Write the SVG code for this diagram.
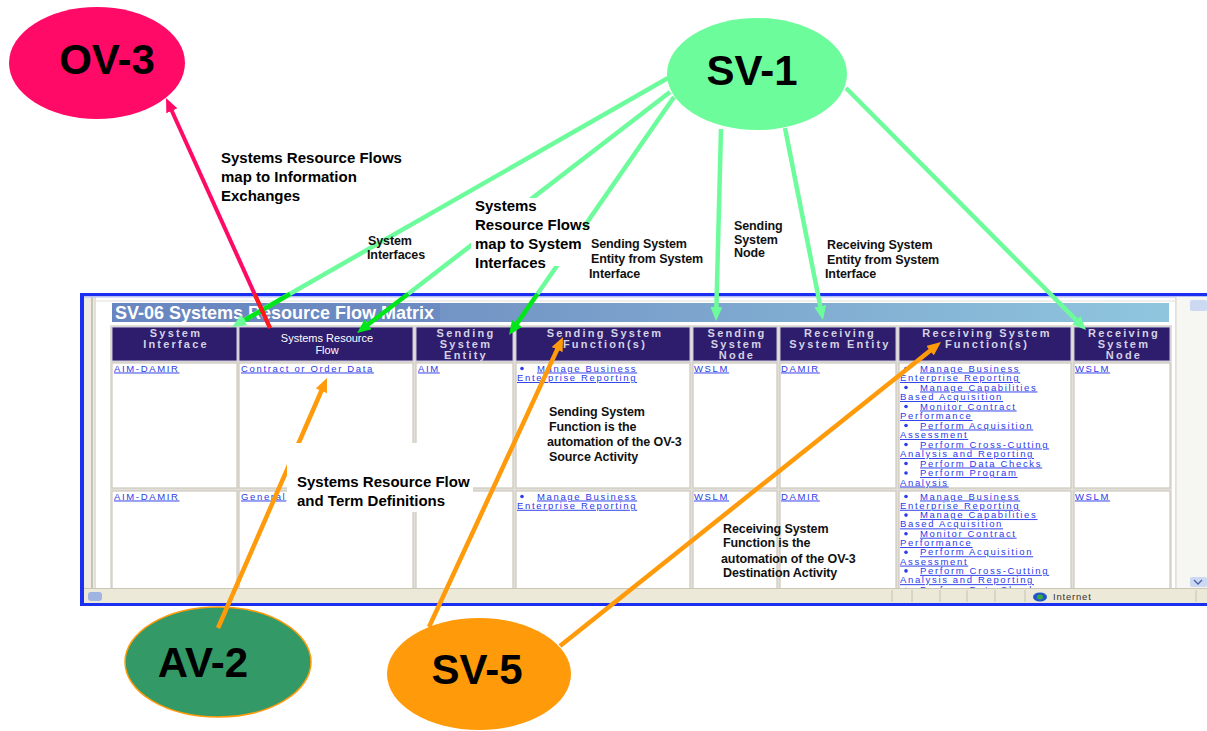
<svg xmlns="http://www.w3.org/2000/svg" width="1207" height="731" viewBox="0 0 1207 731">
  <style>
    .node-label{font-family:"Liberation Sans",Arial,sans-serif;font-weight:bold;font-size:42px;fill:#000;text-anchor:middle}
    .note{font-family:"Liberation Sans",Arial,sans-serif;font-weight:bold;font-size:15px;fill:#000}
    .tag{font-family:"Liberation Sans",Arial,sans-serif;font-weight:bold;font-size:12.5px;fill:#111;letter-spacing:-0.1px}
    .hdr{font-family:"Liberation Sans",Arial,sans-serif;font-weight:bold;font-size:11px;fill:#d4d2e4;text-anchor:middle;letter-spacing:2.2px}
    .hdr-w{font-family:"Liberation Sans",Arial,sans-serif;font-size:11px;fill:#fff;text-anchor:middle}
    .lnk{font-family:"Liberation Sans",Arial,sans-serif;font-size:9.5px;fill:#2b3be8;text-decoration:underline;letter-spacing:1.65px}
    .bul{fill:#2b3be8}
    .cell{fill:#fff;stroke:#cdc9bf;stroke-width:1.2}
    .hcell{fill:#2e1c6c;stroke:#c9c6d8;stroke-width:1}
    .g-soft{stroke:#6dfc9b;stroke-width:4.5;fill:none}
    .g-bright{stroke:#00e61a;stroke-width:4.5;fill:none}
    .pink{stroke:#ff0a66;stroke-width:4;fill:none}
    .red{stroke:#ff1a1a;stroke-width:4;fill:none}
    .orange{stroke:#ff9a0a;stroke-width:4.5;fill:none}
    .sep{stroke:#c5c2b2;stroke-width:1}
  </style>
  <defs>
    <marker id="ah-soft" viewBox="0 0 14 12" refX="8" refY="6" markerWidth="14" markerHeight="12" markerUnits="userSpaceOnUse" orient="auto">
      <path d="M0,0 L14,6 L0,12 z" fill="#6dfc9b"/>
    </marker>
    <marker id="ah-bright" viewBox="0 0 14 12" refX="8" refY="6" markerWidth="14" markerHeight="12" markerUnits="userSpaceOnUse" orient="auto">
      <path d="M0,0 L14,6 L0,12 z" fill="#00e61a"/>
    </marker>
    <marker id="ah-pink" viewBox="0 0 14 12" refX="8" refY="6" markerWidth="14" markerHeight="12" markerUnits="userSpaceOnUse" orient="auto">
      <path d="M0,0 L14,6 L0,12 z" fill="#ff0a66"/>
    </marker>
    <marker id="ah-orange" viewBox="0 0 14 12" refX="8" refY="6" markerWidth="14" markerHeight="12" markerUnits="userSpaceOnUse" orient="auto">
      <path d="M0,0 L14,6 L0,12 z" fill="#ff9a0a"/>
    </marker>
    <linearGradient id="titlebar" x1="0" y1="0" x2="1" y2="0">
      <stop offset="0" stop-color="#6a89c2"/>
      <stop offset="0.35" stop-color="#7496c6"/>
      <stop offset="1" stop-color="#8fc6de"/>
    </linearGradient>
    <clipPath id="pane">
      <rect x="96" y="297" width="1079" height="291"/>
    </clipPath>
  </defs>

  <rect width="1207" height="731" fill="#fff"/>

  <!-- browser window holding the SV-06 matrix -->
  <g id="matrix-window">
    <rect x="80" y="293" width="1127" height="313" fill="#eeece4"/>
    <rect x="96" y="297" width="1079" height="291" fill="#fff"/>
    <line x1="92" y1="297" x2="92" y2="588" stroke="#b9b6a9" stroke-width="1.5"/>
    <line x1="95" y1="297" x2="95" y2="588" stroke="#d6d3c6" stroke-width="1"/>
    <line x1="96" y1="301" x2="1175" y2="301" stroke="#e2e0da" stroke-width="1"/>
    <!-- frame -->
    <rect x="80" y="293" width="1127" height="3" fill="#1a2ff0"/>
    <rect x="80" y="296" width="1127" height="1.5" fill="#b8c0f4"/>
    <rect x="80" y="293" width="4" height="313" fill="#1a2ff0"/>
    <rect x="80" y="603" width="1127" height="3" fill="#1a2ff0"/>

    <!-- scrollbar -->
    <rect x="1176" y="297" width="31" height="291" fill="#f6f6f2"/>
    <line x1="1176" y1="297" x2="1176" y2="588" stroke="#d8d5ca"/>
    <rect x="1190" y="300" width="17" height="11" fill="#cdd9f2" rx="2"/>
    <rect x="1190" y="577" width="17" height="10" fill="#cdd9f2" rx="2"/>
    <path d="M1194,580 L1198,584 L1202,580" fill="none" stroke="#4a5fa8" stroke-width="1.3"/>

    <!-- status bar -->
    <rect x="84" y="588" width="1123" height="15" fill="#ece9d8"/>
    <line x1="84" y1="588.5" x2="1207" y2="588.5" stroke="#c9c6b6"/>
    <rect x="88" y="592" width="14" height="9" rx="3" fill="#9fb4e0"/>
    <line class="sep" x1="892" y1="590" x2="892" y2="602"/>
    <line class="sep" x1="912" y1="590" x2="912" y2="602"/>
    <line class="sep" x1="940" y1="590" x2="940" y2="602"/>
    <line class="sep" x1="967" y1="590" x2="967" y2="602"/>
    <line class="sep" x1="995" y1="590" x2="995" y2="602"/>
    <line class="sep" x1="1025" y1="590" x2="1025" y2="602"/>
    <line class="sep" x1="1196" y1="590" x2="1196" y2="602"/>
    <ellipse cx="1040" cy="597" rx="7" ry="4.5" fill="#1f56c8"/>
    <ellipse cx="1040" cy="597" rx="3" ry="2.5" fill="#3aa83a"/>
    <text x="1053" y="600" font-family="Liberation Sans, Arial, sans-serif" font-size="9.5" fill="#333" letter-spacing="0.8">Internet</text>

    <!-- page title -->
    <rect x="112" y="303" width="1057" height="19" fill="url(#titlebar)"/>
    <rect x="112" y="303" width="328" height="19" fill="#6785c0" opacity="0.6"/>
    <text x="115" y="319" font-family="Liberation Sans, Arial, sans-serif" font-weight="bold" font-size="18" fill="#fff">SV-06 Systems Resource Flow Matrix</text>

    <g clip-path="url(#pane)">
      <rect x="110" y="325" width="1062" height="265" fill="#e2e0d9"/>
      <!-- header row -->
      <rect class="hcell" x="112" y="327" width="125" height="34"/>
      <rect class="hcell" x="239" y="327" width="174" height="34"/>
      <rect class="hcell" x="416" y="327" width="97" height="34"/>
      <rect class="hcell" x="516" y="327" width="174" height="34"/>
      <rect class="hcell" x="693" y="327" width="84" height="34"/>
      <rect class="hcell" x="780" y="327" width="116" height="34"/>
      <rect class="hcell" x="899" y="327" width="172" height="34"/>
      <rect class="hcell" x="1074" y="327" width="96" height="34"/>
      <!-- body rows -->
      <rect class="cell" x="112" y="363" width="125" height="125"/>
      <rect class="cell" x="239" y="363" width="174" height="125"/>
      <rect class="cell" x="416" y="363" width="97" height="125"/>
      <rect class="cell" x="516" y="363" width="174" height="125"/>
      <rect class="cell" x="693" y="363" width="84" height="125"/>
      <rect class="cell" x="780" y="363" width="116" height="125"/>
      <rect class="cell" x="899" y="363" width="172" height="125"/>
      <rect class="cell" x="1074" y="363" width="96" height="125"/>
      <rect class="cell" x="112" y="491" width="125" height="110"/>
      <rect class="cell" x="239" y="491" width="174" height="110"/>
      <rect class="cell" x="416" y="491" width="97" height="110"/>
      <rect class="cell" x="516" y="491" width="174" height="110"/>
      <rect class="cell" x="693" y="491" width="84" height="110"/>
      <rect class="cell" x="780" y="491" width="116" height="110"/>
      <rect class="cell" x="899" y="491" width="172" height="110"/>
      <rect class="cell" x="1074" y="491" width="96" height="110"/>

      <!-- header texts -->
      <text class="hdr" x="176" y="337">System</text>
      <text class="hdr" x="176" y="348">Interface</text>
      <text class="hdr-w" x="327" y="342">Systems Resource</text>
      <text class="hdr-w" x="327" y="354">Flow</text>
      <text class="hdr" x="466" y="337">Sending</text>
      <text class="hdr" x="466" y="348">System</text>
      <text class="hdr" x="466" y="359">Entity</text>
      <text class="hdr" x="605" y="337">Sending System</text>
      <text class="hdr" x="605" y="348">Function(s)</text>
      <text class="hdr" x="737" y="337">Sending</text>
      <text class="hdr" x="737" y="348">System</text>
      <text class="hdr" x="737" y="359">Node</text>
      <text class="hdr" x="840" y="337">Receiving</text>
      <text class="hdr" x="840" y="348">System Entity</text>
      <text class="hdr" x="987" y="337">Receiving System</text>
      <text class="hdr" x="987" y="348">Function(s)</text>
      <text class="hdr" x="1124" y="337">Receiving</text>
      <text class="hdr" x="1124" y="348">System</text>
      <text class="hdr" x="1124" y="359">Node</text>

      <!-- row 1 -->
      <text class="lnk" x="114" y="371.5">AIM-DAMIR</text>
      <text class="lnk" x="241" y="371.5">Contract or Order Data</text>
      <text class="lnk" x="418" y="371.5">AIM</text>
      <circle class="bul" cx="522" cy="368.5" r="1.8"/>
      <text class="lnk" x="537" y="371.5">Manage Business</text>
      <text class="lnk" x="517" y="381">Enterprise Reporting</text>
      <text class="lnk" x="694" y="371.5">WSLM</text>
      <text class="lnk" x="781" y="371.5">DAMIR</text>
      <circle class="bul" cx="906" cy="368.5" r="1.8"/>
      <text class="lnk" x="920" y="371.5">Manage Business</text>
      <text class="lnk" x="900" y="381">Enterprise Reporting</text>
      <circle class="bul" cx="906" cy="387.5" r="1.8"/>
      <text class="lnk" x="920" y="390.5">Manage Capabilities</text>
      <text class="lnk" x="900" y="400">Based Acquisition</text>
      <circle class="bul" cx="906" cy="406.5" r="1.8"/>
      <text class="lnk" x="920" y="409.5">Monitor Contract</text>
      <text class="lnk" x="900" y="419">Performance</text>
      <circle class="bul" cx="906" cy="425.5" r="1.8"/>
      <text class="lnk" x="920" y="428.5">Perform Acquisition</text>
      <text class="lnk" x="900" y="438">Assessment</text>
      <circle class="bul" cx="906" cy="444.5" r="1.8"/>
      <text class="lnk" x="920" y="447.5">Perform Cross-Cutting</text>
      <text class="lnk" x="900" y="457">Analysis and Reporting</text>
      <circle class="bul" cx="906" cy="463.5" r="1.8"/>
      <text class="lnk" x="920" y="466.5">Perform Data Checks</text>
      <circle class="bul" cx="906" cy="473" r="1.8"/>
      <text class="lnk" x="920" y="476">Perform Program</text>
      <text class="lnk" x="900" y="485.5">Analysis</text>
      <text class="lnk" x="1075" y="371.5">WSLM</text>

      <!-- row 2 -->
      <text class="lnk" x="114" y="499.5">AIM-DAMIR</text>
      <text class="lnk" x="241" y="499.5">General</text>
      <circle class="bul" cx="522" cy="496.5" r="1.8"/>
      <text class="lnk" x="537" y="499.5">Manage Business</text>
      <text class="lnk" x="517" y="508.8">Enterprise Reporting</text>
      <text class="lnk" x="694" y="499.5">WSLM</text>
      <text class="lnk" x="781" y="499.5">DAMIR</text>
      <circle class="bul" cx="906" cy="496.5" r="1.8"/>
      <text class="lnk" x="920" y="499.5">Manage Business</text>
      <text class="lnk" x="900" y="508.8">Enterprise Reporting</text>
      <circle class="bul" cx="906" cy="515.1" r="1.8"/>
      <text class="lnk" x="920" y="518.1">Manage Capabilities</text>
      <text class="lnk" x="900" y="527.4">Based Acquisition</text>
      <circle class="bul" cx="906" cy="533.7" r="1.8"/>
      <text class="lnk" x="920" y="536.7">Monitor Contract</text>
      <text class="lnk" x="900" y="546">Performance</text>
      <circle class="bul" cx="906" cy="552.3" r="1.8"/>
      <text class="lnk" x="920" y="555.3">Perform Acquisition</text>
      <text class="lnk" x="900" y="564.6">Assessment</text>
      <circle class="bul" cx="906" cy="570.9" r="1.8"/>
      <text class="lnk" x="920" y="573.9">Perform Cross-Cutting</text>
      <text class="lnk" x="900" y="583.2">Analysis and Reporting</text>
      <circle class="bul" cx="906" cy="589.5" r="1.8"/>
      <text class="lnk" x="920" y="592.5">Perform Data Checks</text>
      <text class="lnk" x="1075" y="499.5">WSLM</text>
    </g>
  </g>

  <!-- view nodes -->
  <g id="ov3">
    <ellipse cx="97" cy="63" rx="88" ry="56" fill="#ff0a66"/>
    <text class="node-label" x="107" y="74">OV-3</text>
  </g>
  <g id="sv1">
    <ellipse cx="757" cy="74" rx="90" ry="56" fill="#6dfc9b"/>
    <text class="node-label" x="752" y="85">SV-1</text>
  </g>
  <g id="av2">
    <ellipse cx="218" cy="662" rx="93" ry="55" fill="#339966" stroke="#ff9a0a" stroke-width="1.5"/>
    <text class="node-label" x="203" y="677">AV-2</text>
  </g>
  <g id="sv5">
    <ellipse cx="479" cy="674" rx="92" ry="56" fill="#ff9a0a"/>
    <text class="node-label" x="477" y="684">SV-5</text>
  </g>

  <!-- connectors -->
  <g id="connectors">
    <!-- SV-1 to matrix columns -->
    <path class="g-soft" d="M668,78 L237.2,324" marker-end="url(#ah-soft)"/>
    <path class="g-bright" d="M290,294 L245,320"/>
    <path class="g-soft" d="M670,92 L408,294"/>
    <path class="g-bright" d="M408,294 L361.8,329.3" marker-end="url(#ah-bright)"/>
    <path class="g-soft" d="M674,97 L537.4,294"/>
    <path class="g-bright" d="M537.4,294 L512.4,330.1" marker-end="url(#ah-bright)"/>
    <path class="g-soft" d="M721,129 L716.2,315" marker-end="url(#ah-soft)"/>
    <path class="g-soft" d="M785,128 L821.8,314.1" marker-end="url(#ah-soft)"/>
    <path class="g-soft" d="M846,88 L1081.8,325.7" marker-end="url(#ah-soft)"/>
    <!-- resource flow to OV-3 -->
    <path class="pink" d="M270,328 L168.5,103.5" marker-end="url(#ah-pink)"/>
    <path class="red" d="M270,328 L254.6,294"/>
    <!-- AV-2 and SV-5 into the matrix -->
    <path class="orange" d="M218,628 L324.6,383.5" marker-end="url(#ah-orange)"/>
    <path class="orange" d="M429,627 L560.5,342.4" marker-end="url(#ah-orange)"/>
    <path class="orange" d="M560,646 L936.3,345.7" marker-end="url(#ah-orange)"/>
  </g>

  <!-- annotations -->
  <g id="note-info-exchanges">
    <text class="note" x="221" y="163">Systems Resource Flows</text>
    <text class="note" x="221" y="182">map to Information</text>
    <text class="note" x="221" y="201">Exchanges</text>
  </g>
  <g id="note-system-interfaces">
    <rect x="471" y="198" width="113" height="68" fill="#fff"/>
    <text class="note" x="475" y="211">Systems</text>
    <text class="note" x="475" y="230">Resource Flows</text>
    <text class="note" x="475" y="249">map to System</text>
    <text class="note" x="475" y="268">Interfaces</text>
  </g>
  <g id="note-term-definitions">
    <rect x="287" y="443" width="186" height="69" fill="#fff"/>
    <text class="note" x="297" y="487">Systems Resource Flow</text>
    <text class="note" x="297" y="506">and Term Definitions</text>
  </g>
  <g id="tag-system-interfaces">
    <text class="tag" x="368" y="245">System</text>
    <text class="tag" x="367" y="259">Interfaces</text>
  </g>
  <g id="tag-sending-entity">
    <text class="tag" x="591" y="248">Sending System</text>
    <text class="tag" x="591" y="263">Entity from System</text>
    <text class="tag" x="589" y="278">Interface</text>
  </g>
  <g id="tag-sending-node">
    <text class="tag" x="734" y="230">Sending</text>
    <text class="tag" x="734" y="244">System</text>
    <text class="tag" x="734" y="257">Node</text>
  </g>
  <g id="tag-receiving-entity">
    <text class="tag" x="827" y="249">Receiving System</text>
    <text class="tag" x="827" y="264">Entity from System</text>
    <text class="tag" x="825" y="278">Interface</text>
  </g>
  <g id="tag-sending-function">
    <text class="tag" x="549" y="416">Sending System</text>
    <text class="tag" x="549" y="431">Function is the</text>
    <text class="tag" x="547" y="446">automation of the OV-3</text>
    <text class="tag" x="549" y="461">Source Activity</text>
  </g>
  <g id="tag-receiving-function">
    <text class="tag" x="723" y="533">Receiving System</text>
    <text class="tag" x="723" y="547">Function is the</text>
    <text class="tag" x="721" y="563">automation of the OV-3</text>
    <text class="tag" x="723" y="577">Destination Activity</text>
  </g>
</svg>
